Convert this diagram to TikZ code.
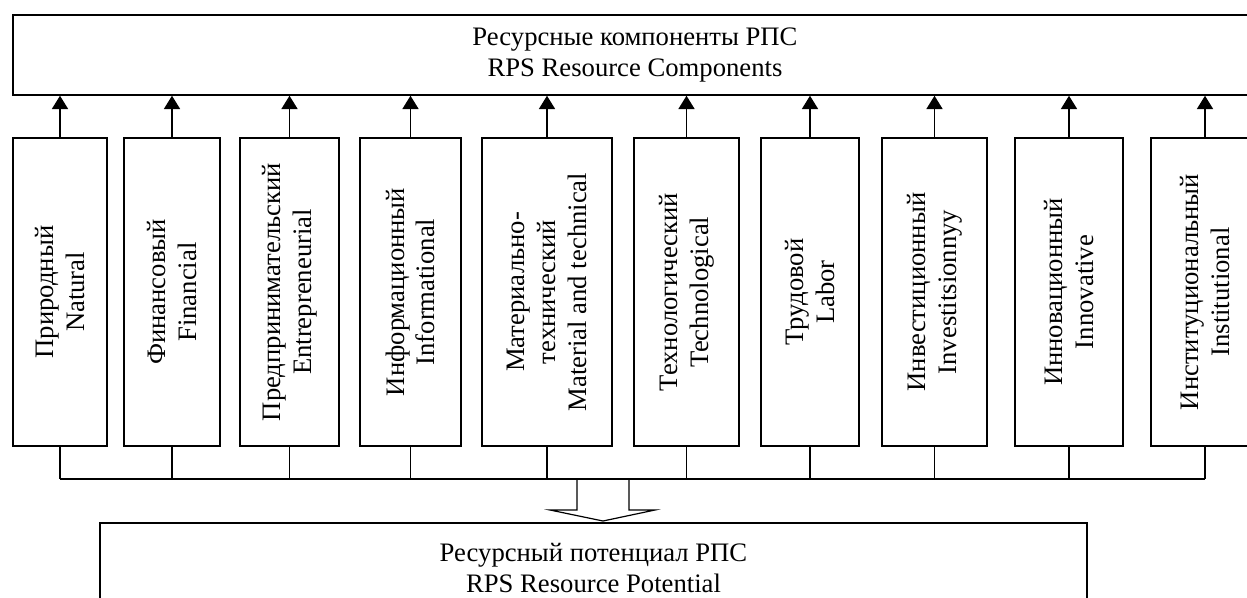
\documentclass[tikz,border=0pt]{standalone}
\usepackage{fontspec}
\setmainfont{Liberation Serif}
\usetikzlibrary{arrows.meta}
\begin{document}
\begin{tikzpicture}[x=0.75pt,y=-0.75pt,
  box/.style={draw, line width=1.1pt, inner sep=0pt, font=\fontsize{20}{23}\selectfont, align=center},
  comp/.style={box, rotate=90, minimum width=231pt},
  arr/.style={line width=1.3pt, -{Triangle[width=12pt,length=10pt]}},
  conn/.style={line width=0.9pt}]
\useasboundingbox (0,0) rectangle (1247,597);
\clip (0,0) rectangle (1247,597);
\node[box, minimum width=933pt, minimum height=60pt] (top) at (635,55) {Ресурсные компоненты РПС\\RPS Resource Components};
\node[box, minimum width=740.25pt, minimum height=67.5pt] (bot) at (593.5,568) {Ресурсный потенциал РПС\\RPS Resource Potential};
\node[comp, minimum height=70.5pt] (b1) at (60,292) {Природный\\Natural};
\node[comp, minimum height=72pt] (b2) at (172,292) {Финансовый\\Financial};
\node[comp, minimum height=74.25pt] (b3) at (289.5,292) {Предпринимательский\\Entrepreneurial};
\node[comp, minimum height=75.75pt] (b4) at (410.5,292) {Информационный\\Informational};
\node[comp, minimum height=97.5pt] (b5) at (547,292) {Материально-\\технический\\Material and technical};
\node[comp, minimum height=78.75pt] (b6) at (686.5,292) {Технологический\\Technological};
\node[comp, minimum height=73.5pt] (b7) at (810,292) {Трудовой\\Labor};
\node[comp, minimum height=78.75pt] (b8) at (934.5,292) {Инвестиционный\\Investitsionnyy};
\node[comp, minimum height=81pt] (b9) at (1069,292) {Инновационный\\Innovative};
\node[comp, minimum height=81pt] (b10) at (1205,292) {Институциональный\\Institutional};
\coordinate (bus) at (0,479);
\coordinate (tip) at (603,521);
\foreach \i in {1,...,10}{
  \draw[arr] (b\i.east) -- (b\i.east |- top.south);
  \draw[conn] (b\i.west) -- (b\i.west |- bus);
}
\draw[conn] (b1.west |- bus) -- (b10.west |- bus);
\draw[conn] (tip) ++(-26,-42) -- ++(0,31) -- ++(-27,0) -- (tip) -- ++(52,-11) -- ++(-26,0) -- ++(0,-31);
\end{tikzpicture}
\end{document}
